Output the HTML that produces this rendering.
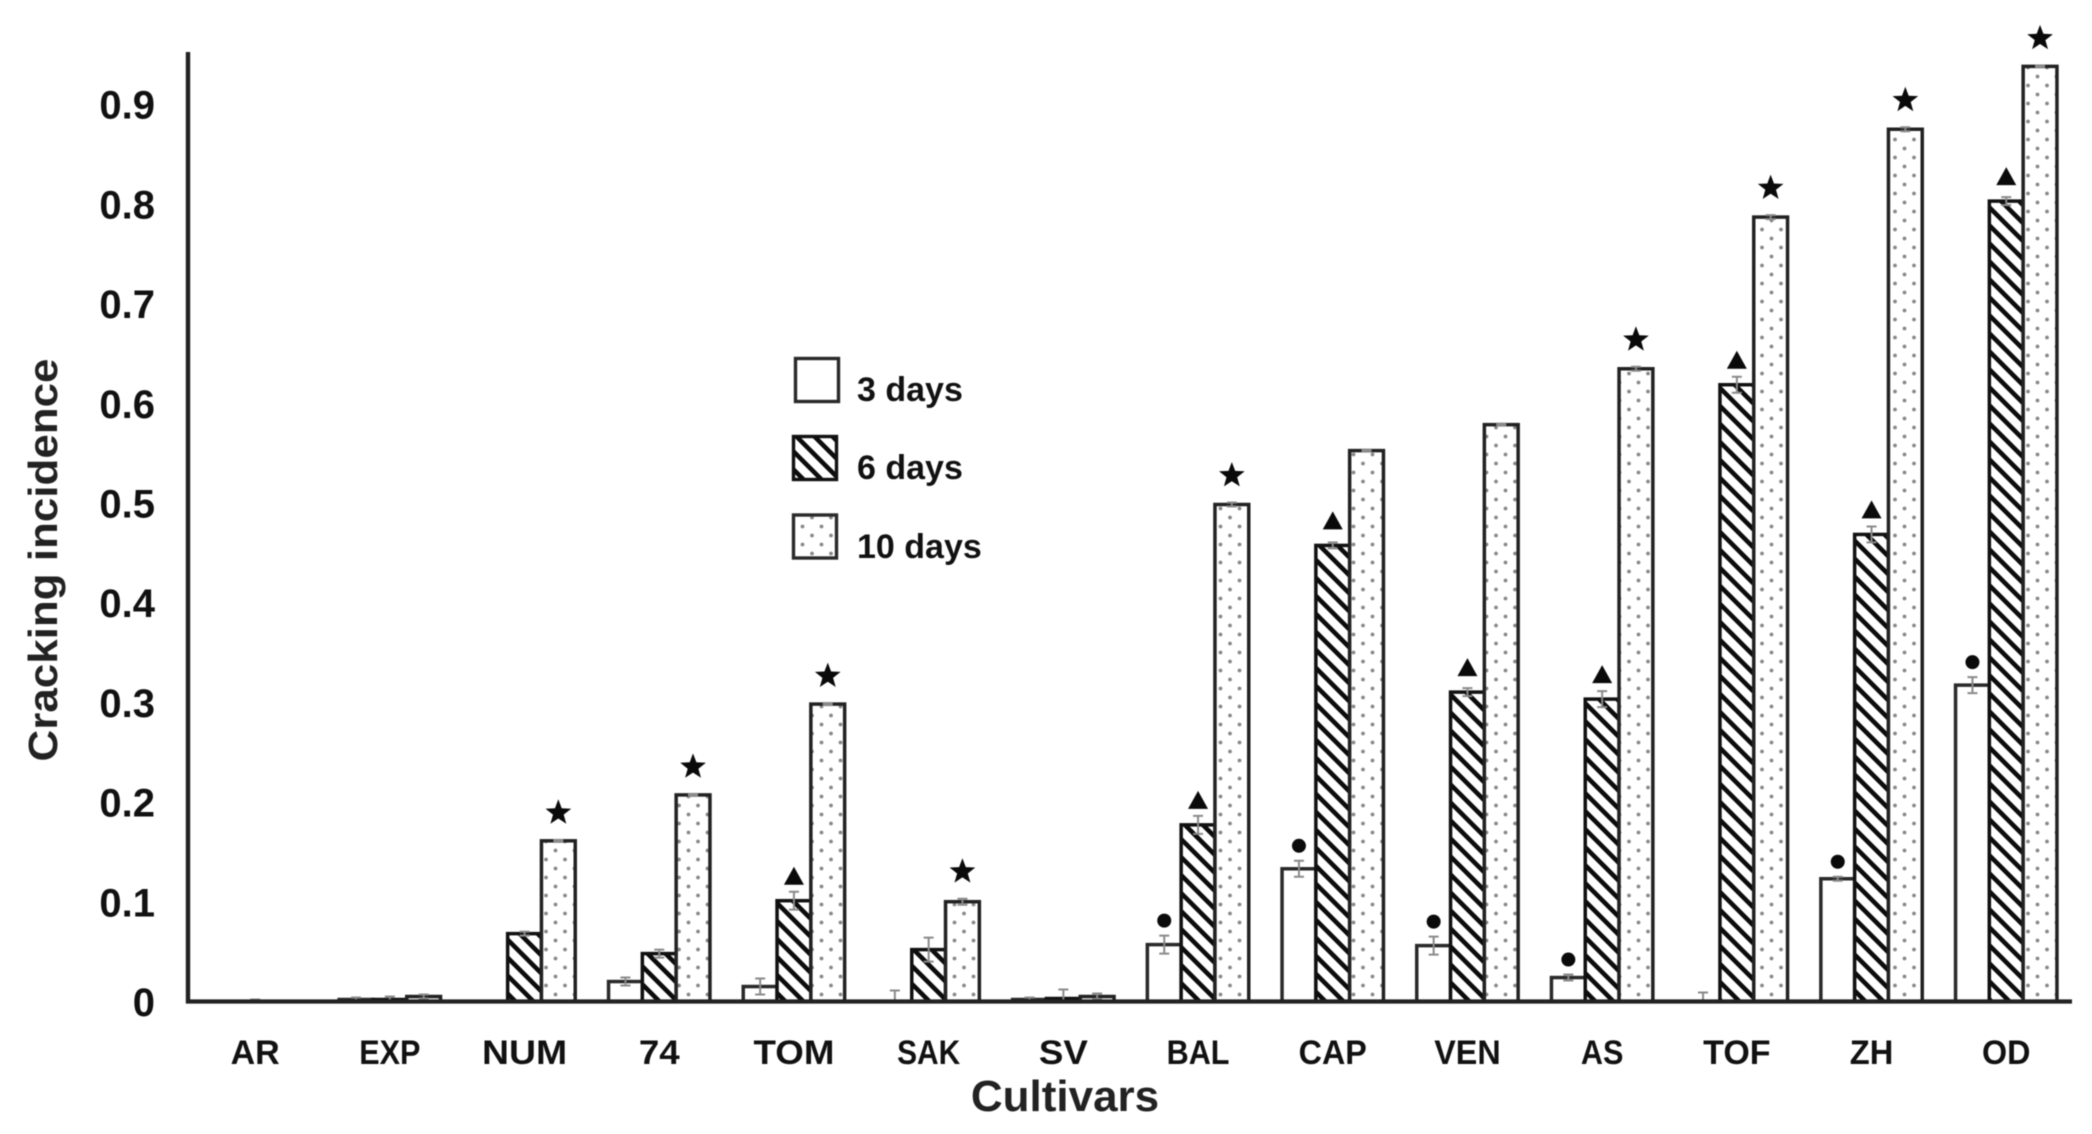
<!DOCTYPE html>
<html lang="en">
<head>
<meta charset="utf-8">
<title>Cracking incidence by cultivar</title>
<style>
  html, body { margin: 0; padding: 0; background: #fff; }
  svg { display: block; filter: blur(0.6px); font-family: "Liberation Sans", sans-serif; }
</style>
</head>
<body>
<svg id="chart" xmlns="http://www.w3.org/2000/svg" width="2092" height="1134" viewBox="0 0 2092 1134">
  <defs>
    <pattern id="hatch" patternUnits="userSpaceOnUse" width="18" height="18">
      <rect width="18" height="18" fill="#fff"/>
      <path d="M-3,-3 L21,21 M-3,15 L3,21 M15,-3 L21,3" stroke="#0c0c0c" stroke-width="4.6" fill="none"/>
    </pattern>
    <pattern id="dots" patternUnits="userSpaceOnUse" width="19" height="18">
      <rect width="19" height="18" fill="#fff"/>
      <circle cx="4.5" cy="4.5" r="1.9" fill="#888"/>
      <circle cx="14" cy="13.5" r="1.9" fill="#888"/>
    </pattern>
  </defs>
  <rect width="2092" height="1134" fill="#fff"/>
  <g id="bars"></g>
  <g id="errors"></g>
  <g id="markers"></g>
  <g id="axes"></g>
  <g id="labels"></g>
  <g font-weight="700" font-size="34" fill="#111">
    <rect x="795.5" y="358.5" width="43" height="43" fill="#fff" stroke="#2a2a2a" stroke-width="3.4"/>
    <text x="857" y="401">3 days</text>
    <rect x="793.5" y="436.5" width="43" height="43" fill="url(#hatch)" stroke="#111" stroke-width="3.4"/>
    <text x="857" y="479">6 days</text>
    <rect x="793.5" y="515" width="43" height="43" fill="url(#dots)" stroke="#2a2a2a" stroke-width="3.4"/>
    <text x="857" y="558">10 days</text>
  </g>
</svg>
<script>
const categories = ["AR","EXP","NUM","74","TOM","SAK","SV","BAL","CAP","VEN","AS","TOF","ZH","OD"];
const yTicks = [0,0.1,0.2,0.3,0.4,0.5,0.6,0.7,0.8,0.9];
const days3 = [0,0.002,0,0.02,0.015,0,0.002,0.057,0.133,0.056,0.024,0,0.123,0.317];
const days6 = [0,0.002,0.068,0.048,0.101,0.052,0.003,0.177,0.457,0.31,0.303,0.618,0.468,0.802];
const days10 = [0,0.005,0.161,0.207,0.298,0.1,0.005,0.498,0.552,0.578,0.634,0.786,0.874,0.937];
const err3 = [0.001,0.002,0.001,0.004,0.008,0.011,0.002,0.009,0.008,0.009,0.003,0.009,0.002,0.008];
const err6 = [0.002,0.003,0.002,0.004,0.009,0.012,0.009,0.009,0.003,0.004,0.008,0.008,0.008,0.004];
const err10 = [0,0.002,0.001,0.001,0.001,0.003,0.003,0.002,0.001,0.001,0.002,0.002,0.002,0.001];
const circleFlags = [0,0,0,0,0,0,0,1,1,1,1,0,1,1];
const triangleFlags = [0,0,0,0,1,0,0,1,1,1,1,1,1,1];
const starFlags = [0,0,1,1,1,1,0,1,0,0,1,1,1,1];
const labelStretch = [1.0,0.9,1.1,1.08,1.08,0.88,1.08,0.9,0.95,0.95,0.9,1.0,0.96,0.95];

const NS = "http://www.w3.org/2000/svg";
const plotLeft = 188, plotRight = 2072, plotTop = 52, baseY = 1001.5, unitH = 998;
const groupW = 134.7, barW = 33.8;
function yScale(v) { return baseY - v * unitH; }
function yLabelScale(v) { return 1016 - v * 997; }
function xGroup(i) { return 187.8 + groupW * (i + 0.5); }
function make(parent, tag, attrs, text) {
  const e = document.createElementNS(NS, tag);
  for (const k in attrs) e.setAttribute(k, attrs[k]);
  if (text !== undefined) e.textContent = text;
  document.getElementById(parent).appendChild(e);
  return e;
}
const seriesList = [
  { key: "3-days", vals: days3, errs: err3, off: -1, fill: "#fff", stroke: "#2a2a2a" },
  { key: "6-days", vals: days6, errs: err6, off: 0, fill: "url(#hatch)", stroke: "#111" },
  { key: "10-days", vals: days10, errs: err10, off: 1, fill: "url(#dots)", stroke: "#222" }
];
seriesList.forEach(function (s) {
  s.vals.forEach(function (v, i) {
    const cx = xGroup(i) + s.off * barW;
    const top = yScale(v);
    if (v > 0) {
      const bar = make("bars", "rect", { x: cx - barW / 2, y: top, width: barW, height: baseY - top, fill: s.fill, stroke: s.stroke, "stroke-width": 3.5 });
      
      
    }
    const e = s.errs[i];
    if (e > 0) {
      const y1 = yScale(v + e), y2 = yScale(Math.max(0, v - e));
      const eb = make("errors", "path", { d: "M" + (cx - 5) + "," + y1 + "H" + (cx + 5) + "M" + cx + "," + y1 + "V" + y2 + "M" + (cx - 5) + "," + y2 + "H" + (cx + 5), stroke: "#8a8a8a", "stroke-width": 2, fill: "none" });
      
      
    }
  });
});
function starPoints(cx, cy, R) {
  const pts = [];
  for (let k = 0; k < 10; k++) {
    const r = k % 2 === 0 ? R : R * 0.42;
    const a = -Math.PI / 2 + k * Math.PI / 5;
    pts.push((cx + r * Math.cos(a)).toFixed(1) + "," + (cy + r * Math.sin(a)).toFixed(1));
  }
  return pts.join(" ");
}
categories.forEach(function (c, i) {
  if (circleFlags[i]) {
    const m = make("markers", "circle", { cx: xGroup(i) - barW, cy: yScale(days3[i] + err3[i]) - 15, r: 7, fill: "#0a0a0a" });
    
    
  }
  if (triangleFlags[i]) {
    const x = xGroup(i), y = yScale(days6[i]) - 25;
    const m = make("markers", "polygon", { points: (x - 10) + "," + (y + 9) + " " + (x + 10) + "," + (y + 9) + " " + x + "," + (y - 9), fill: "#0a0a0a" });
    
    
  }
  if (starFlags[i]) {
    const m = make("markers", "polygon", { points: starPoints(xGroup(i) + barW, yScale(days10[i] + err10[i]) - 27, 13.5), fill: "#0a0a0a" });
    
    
  }
  const lbl = make("labels", "text", { transform: "translate(" + xGroup(i) + ",1064) scale(" + labelStretch[i] + ",1)", "text-anchor": "middle", "font-size": 34, "font-weight": 700, fill: "#111" }, c);
  
  
});
yTicks.forEach(function (t) {
  const lbl = make("labels", "text", { x: 155, y: yLabelScale(t), "text-anchor": "end", "font-size": 40, "font-weight": 700, fill: "#111" }, String(t));
  
  
});
const yAxis = make("axes", "line", { x1: plotLeft, y1: plotTop, x2: plotLeft, y2: baseY + 2, stroke: "#222", "stroke-width": 4.4 });


const xAxis = make("axes", "line", { x1: plotLeft - 2, y1: baseY, x2: plotRight, y2: baseY, stroke: "#222", "stroke-width": 4.2 });


const yTitle = make("labels", "text", { transform: "translate(57,560) rotate(-90)", "text-anchor": "middle", "font-size": 41, "font-weight": 700, fill: "#222", textLength: 403, lengthAdjust: "spacingAndGlyphs" }, "Cracking incidence");


const xTitle = make("labels", "text", { x: 1065, y: 1111, "text-anchor": "middle", "font-size": 44, "font-weight": 700, fill: "#222" }, "Cultivars");


</script>
</body>
</html>
